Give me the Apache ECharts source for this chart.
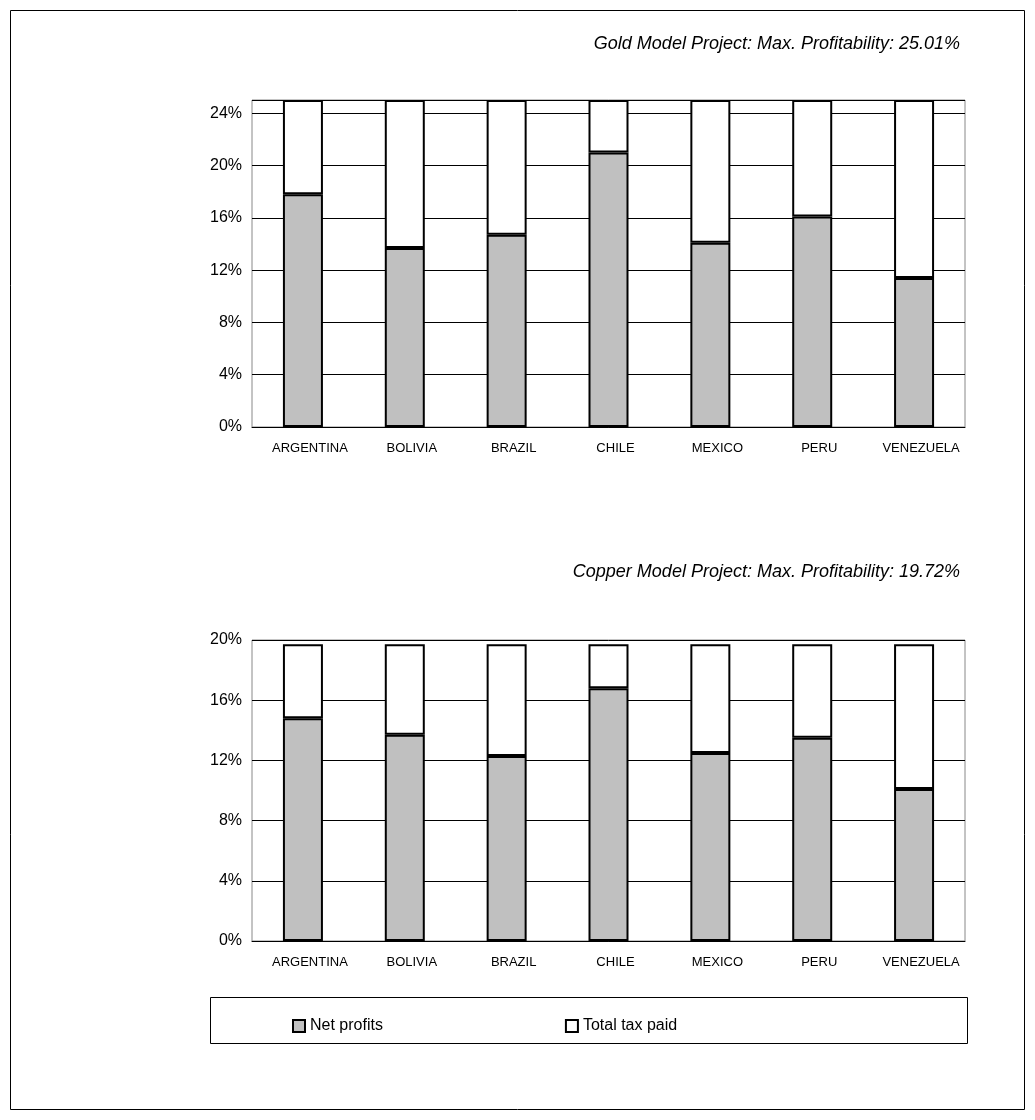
<!DOCTYPE html>
<html>
<head>
<meta charset="utf-8">
<script src="https://cdn.jsdelivr.net/npm/echarts@6/dist/echarts.min.js"></script>
<style>
  body { margin: 0; background: #fff; }
  #chart { width: 1035px; height: 1120px; }
</style>
</head>
<body>
<div id="chart"></div>
<script>
var countries = ['ARGENTINA', 'BOLIVIA', 'BRAZIL', 'CHILE', 'MEXICO', 'PERU', 'VENEZUELA'];
var goldMax = 25.01;
var goldNet = [17.8, 13.7, 14.7, 21.0, 14.1, 16.1, 11.4];
var copperMax = 19.72;
var copperNet = [14.8, 13.7, 12.3, 16.8, 12.5, 13.5, 10.1];

function taxOf(net, max) {
  return net.map(function (v) { return +(max - v).toFixed(2); });
}

var font = 'Liberation Sans, Arial, sans-serif';
var chart = echarts.init(document.getElementById('chart'));

function yAxis(idx, max) {
  return {
    gridIndex: idx, type: 'value', min: 0, max: max, interval: 4,
    axisLine: { show: false }, axisTick: { show: false },
    axisLabel: { formatter: '{value}%', fontSize: 16, color: '#000', fontFamily: font, margin: 10 },
    splitLine: { lineStyle: { color: '#000', width: 1 } }
  };
}
function xAxis(idx) {
  return {
    gridIndex: idx, type: 'category', data: countries,
    axisLine: { lineStyle: { color: '#000' } }, axisTick: { show: false },
    axisLabel: { fontSize: 13, color: '#000', fontFamily: font, margin: 15, padding: [0, 0, 0, 14] }
  };
}
var barStyle = function (c) { return { color: c, borderColor: '#000', borderWidth: 2 }; };

chart.setOption({
  animation: false,
  title: [
    { text: 'Gold Model Project: Max. Profitability: 25.01%', right: 70, top: 30,
      textStyle: { fontStyle: 'italic', fontWeight: 'normal', fontSize: 18, fontFamily: font, color: '#000' } },
    { text: 'Copper Model Project: Max. Profitability: 19.72%', right: 70, top: 558,
      textStyle: { fontStyle: 'italic', fontWeight: 'normal', fontSize: 18, fontFamily: font, color: '#000' } }
  ],
  graphic: [
    { type: 'rect', shape: { x: 10.5, y: 10.5, width: 1014, height: 1099 }, style: { fill: 'none', stroke: '#000', lineWidth: 1 }, silent: true },
    { type: 'rect', shape: { x: 210.5, y: 997.5, width: 757, height: 46 }, style: { fill: 'none', stroke: '#000', lineWidth: 1 }, silent: true }
  ],
  legend: {
    top: 1013, left: 287, itemGap: 182, itemWidth: 12, itemHeight: 12,
    icon: 'rect', selectedMode: false,
    textStyle: { fontSize: 16, fontFamily: font, color: '#000', padding: [10, 0, 0, 0] },
    data: ['Net profits', 'Total tax paid']
  },
  grid: [
    { left: 252, top: 100, width: 713, height: 327, show: true, borderColor: '#888', borderWidth: 1 },
    { left: 252, top: 640, width: 713, height: 301, show: true, borderColor: '#888', borderWidth: 1 }
  ],
  xAxis: [xAxis(0), xAxis(1)],
  yAxis: [yAxis(0, goldMax), yAxis(1, 20)],
  series: [
    { name: 'Net profits', type: 'bar', stack: 'g', xAxisIndex: 0, yAxisIndex: 0, barWidth: 40, data: goldNet, itemStyle: barStyle('#c0c0c0') },
    { name: 'Total tax paid', type: 'bar', stack: 'g', xAxisIndex: 0, yAxisIndex: 0, barWidth: 40, data: taxOf(goldNet, goldMax), itemStyle: barStyle('#fff') },
    { name: 'Net profits', type: 'bar', stack: 'c', xAxisIndex: 1, yAxisIndex: 1, barWidth: 40, data: copperNet, itemStyle: barStyle('#c0c0c0') },
    { name: 'Total tax paid', type: 'bar', stack: 'c', xAxisIndex: 1, yAxisIndex: 1, barWidth: 40, data: taxOf(copperNet, copperMax), itemStyle: barStyle('#fff') }
  ]
});
</script>
</body>
</html>
